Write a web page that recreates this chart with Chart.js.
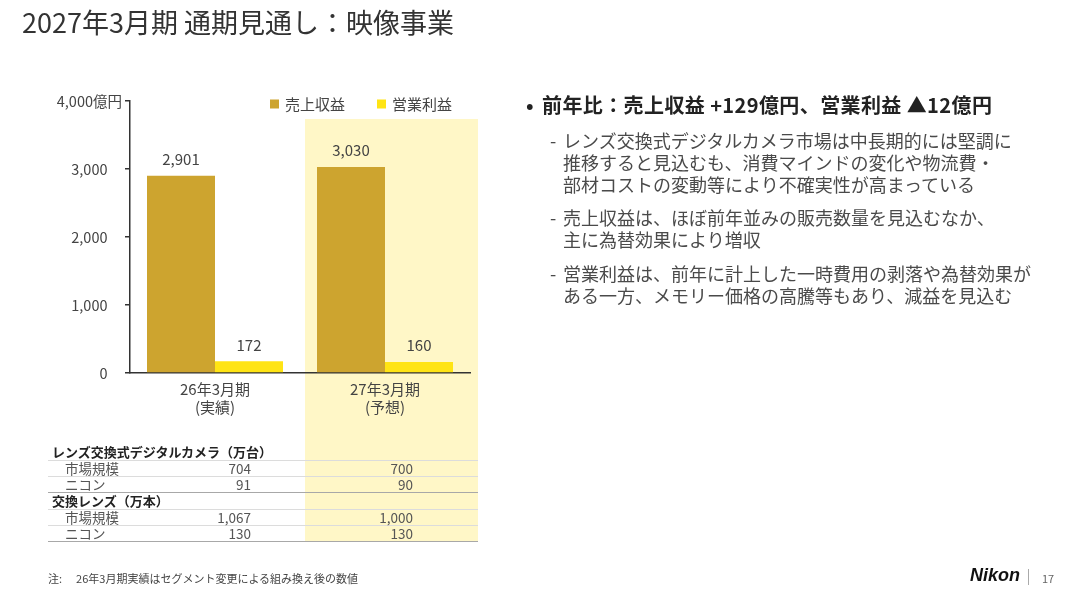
<!DOCTYPE html>
<html lang="ja">
<head>
<meta charset="utf-8">
<script src="https://cdn.jsdelivr.net/npm/chart.js@4.4.1/dist/chart.umd.min.js"></script>
<style>
  body {
    margin: 0;
    width: 1080px;
    height: 594px;
    background: #fff;
    position: relative;
    overflow: hidden;
    font-family: "Noto Sans CJK JP", "Noto Sans", sans-serif;
    color: #333;
  }
  #chart { position: absolute; left: 0; top: 0; }
  .abs { position: absolute; white-space: nowrap; }
  .title { left: 22px; top: 2px; font-size: 27px; color: #333; }
  .lead { left: 526px; top: 90px; font-size: 20px; font-weight: bold; color: #222; letter-spacing: 0.4px; }
  .lead .dot { display: inline-block; width: 16px; font-size: 20px; }
  .sub { left: 550px; font-size: 18px; line-height: 22px; color: #4a4a4a; }
  .sub .dash { display: inline-block; width: 13px; }
  .sub .txt { display: inline-block; vertical-align: top; }
  .trow { position: absolute; left: 48px; width: 430px; height: 16px; font-size: 13.5px; line-height: 16px; color: #555; }
  .trow .lbl { position: absolute; left: 17px; }
  .trow.head .lbl { left: 4px; font-size: 13px; font-weight: bold; color: #222; }
  .trow .v1 { position: absolute; right: 227px; }
  .trow .v2 { position: absolute; right: 65px; }
  .note { left: 48px; top: 570px; font-size: 11px; color: #444; }
  .note .gap { display: inline-block; width: 14px; }
  .logo { left: 970px; top: 565px; font-family: "Liberation Sans", sans-serif; font-weight: bold; font-style: italic; font-size: 18px; color: #111; }
  .sep { left: 1028px; top: 569px; width: 1px; height: 16px; background: #aaa; }
  .page { left: 1042px; top: 570px; font-size: 11px; color: #666; }
</style>
</head>
<body>
<canvas id="chart" width="1080" height="594"></canvas>

<div class="abs title">2027年3月期 通期見通し：映像事業</div>

<div class="abs lead"><span class="dot">•</span>前年比：売上収益 +129億円、営業利益 ▲12億円</div>
<div class="abs sub" style="top:129px"><span class="dash">-</span><span class="txt">レンズ交換式デジタルカメラ市場は中長期的には堅調に<br>推移すると見込むも、消費マインドの変化や物流費・<br>部材コストの変動等により不確実性が高まっている</span></div>
<div class="abs sub" style="top:206px"><span class="dash">-</span><span class="txt">売上収益は、ほぼ前年並みの販売数量を見込むなか、<br>主に為替効果により増収</span></div>
<div class="abs sub" style="top:262px"><span class="dash">-</span><span class="txt">営業利益は、前年に計上した一時費用の剥落や為替効果が<br>ある一方、メモリー価格の高騰等もあり、減益を見込む</span></div>

<div id="table"></div>

<div class="abs note">注:<span class="gap"></span>26年3月期実績はセグメント変更による組み換え後の数値</div>
<div class="abs logo">Nikon</div>
<div class="abs sep"></div>
<div class="abs page">17</div>

<script>
const categories = [['26年3月期', '(実績)'], ['27年3月期', '(予想)']];
const revenue = [2901, 3030];
const opIncome = [172, 160];
const seriesNames = ['売上収益', '営業利益'];
const seriesColors = ['#CDA42F', '#FFE414'];
const yMax = 4000;
const yStep = 1000;

// table under the chart
const sectionNames = ['レンズ交換式デジタルカメラ（万台）', '交換レンズ（万本）'];
const rowNames = ['市場規模', 'ニコン'];
const cameraActual = [704, 91];
const cameraForecast = [700, 90];
const lensActual = [1067, 130];
const lensForecast = [1000, 130];

const fmt = (v) => v.toLocaleString('en-US');
const FONT = '"Noto Sans CJK JP", sans-serif';

// build table rows
const tableEl = document.getElementById('table');
const sections = [
  [sectionNames[0], cameraActual, cameraForecast],
  [sectionNames[1], lensActual, lensForecast],
];
let rowIdx = 0;
sections.forEach(([name, act, fc]) => {
  const rows = [{ head: true, label: name }];
  rowNames.forEach((r, i) => rows.push({ label: r, a: act[i], f: fc[i], last: i === rowNames.length - 1 }));
  rows.forEach((r) => {
    const d = document.createElement('div');
    d.className = 'trow' + (r.head ? ' head' : '');
    d.style.top = (444 + rowIdx * 16.2) + 'px';
    d.style.borderBottom = '1px solid ' + (r.last ? '#a8a8a8' : '#dcdcdc');
    d.innerHTML = '<span class="lbl">' + r.label + '</span>' +
      (r.head ? '' : '<span class="v1">' + fmt(r.a) + '</span><span class="v2">' + fmt(r.f) + '</span>');
    tableEl.appendChild(d);
    rowIdx++;
  });
});

const forecastBand = {
  id: 'forecastBand',
  beforeDraw(chart) {
    const { ctx, scales } = chart;
    const c = scales.x.getPixelForValue(1);
    ctx.save();
    ctx.fillStyle = '#FFF7C7';
    ctx.fillRect(c - 80, 119, 173, 542 - 119);
    ctx.restore();
  },
};

const valueLabels = {
  id: 'valueLabels',
  afterDatasetsDraw(chart) {
    const { ctx } = chart;
    ctx.save();
    ctx.font = '15px ' + FONT;
    ctx.fillStyle = '#444';
    ctx.textAlign = 'center';
    ctx.textBaseline = 'bottom';
    chart.data.datasets.forEach((ds, i) => {
      chart.getDatasetMeta(i).data.forEach((bar, j) => {
        ctx.fillText(fmt(ds.data[j]), bar.x, bar.y - 9);
      });
    });
    ctx.restore();
  },
};

// legend in the top right corner of the plot, level with the top tick
const cornerLegend = {
  id: 'cornerLegend',
  afterDraw(chart) {
    const { ctx, chartArea } = chart;
    ctx.save();
    ctx.font = '15px ' + FONT;
    ctx.textBaseline = 'middle';
    ctx.textAlign = 'left';
    const cy = chartArea.top + 3;
    let x = chartArea.right - 18;
    const items = chart.data.datasets.map((ds) => ({ text: ds.label, color: ds.backgroundColor }));
    for (let i = items.length - 1; i >= 0; i--) {
      const w = ctx.measureText(items[i].text).width;
      const tx = x - w;
      const bx = tx - 6 - 9;
      ctx.fillStyle = items[i].color;
      ctx.fillRect(bx, cy - 4.5, 9, 9);
      ctx.fillStyle = '#444';
      ctx.fillText(items[i].text, tx, cy);
      x = bx - 32;
    }
    ctx.restore();
  },
};

new Chart(document.getElementById('chart'), {
  type: 'bar',
  data: {
    labels: categories,
    datasets: [
      {
        label: seriesNames[0],
        data: revenue,
        backgroundColor: seriesColors[0],
        categoryPercentage: 0.8,
        barPercentage: 1.0,
      },
      {
        label: seriesNames[1],
        data: opIncome,
        backgroundColor: seriesColors[1],
        categoryPercentage: 0.8,
        barPercentage: 1.0,
      },
    ],
  },
  options: {
    responsive: false,
    animation: false,
    devicePixelRatio: 1,
    layout: { padding: { left: 40, top: 101, right: 610, bottom: 161 } },
    plugins: {
      legend: { display: false },
      tooltip: { enabled: false },
    },
    scales: {
      x: {
        grid: { display: false },
        border: { display: true, color: '#333', width: 1.5 },
        ticks: {
          color: '#444',
          padding: 0,
          font: { family: FONT, size: 15, lineHeight: 1.15 },
        },
        afterFit: (s) => { s.height = 60; },
      },
      y: {
        min: 0,
        max: yMax,
        grid: { display: true, drawOnChartArea: false, drawTicks: true, tickLength: 5, color: '#333', lineWidth: 1.5 },
        border: { display: true, color: '#333', width: 1.5 },
        ticks: {
          stepSize: yStep,
          color: '#444',
          padding: 3,
          font: { family: FONT, size: 14.5 },
          callback: (v) => (v === yMax ? fmt(v) + '億円' : fmt(v) + '\u2002\u2002'),
        },
        afterFit: (s) => { s.width = 90; },
      },
    },
  },
  plugins: [forecastBand, valueLabels, cornerLegend],
});
</script>
</body>
</html>
